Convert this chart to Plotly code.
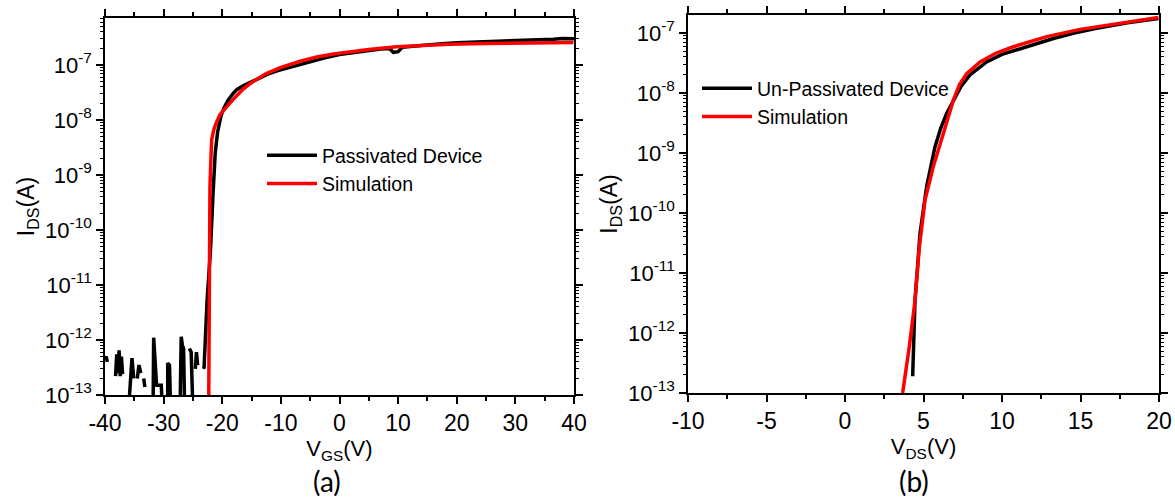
import plotly.graph_objects as go

# ---------------- data: (a) passivated device, transfer curve ----------------
vgs_meas = [-40, -39.8, -39.6, None,
            -38.2, -38.0, -37.8, -37.6, -37.4, -37.2, -37.0, None,
            -36.0, -35.4, -35.1, None,
            -34.5, -34.2, -33.9, None, -33.4, -33.2, None,
            -31.8, -31.7, -31.2, -30.8, -30.4, -30.2, None,
            -29.3, -29.3, -29.0, -28.8, None,
            -27.2, -27.0, -26.8, -26.6, -26.4, None,
            -25.6, -25.3, -25.0, None,
            -24.6, -24.4, -24.2, None,
            -23.2, -23.1, -22.6, -22.0, -21.6, -21.2, -20.8, -20.2, -19.6, -19.0, -18.2, -17.5,
            -16.2, -15, -13.5, -12, -10.5, -9, -7, -5, -2.5, 0, 2.5, 5, 7, 8.5, 9.2, 10.0, 10.7,
            12.5, 15, 17.5, 20, 22.5, 25, 27.5, 30, 32.5, 35, 36.5, 38, 40]
ids_meas = [4.5e-13, 5e-13, 4e-13, None,
            2.2e-13, 5.5e-13, 2.5e-13, 6.5e-13, 2.2e-13, 5e-13, 2.4e-13, None,
            5e-14, 4.7e-13, 2e-13, None,
            2e-13, 3.5e-13, 2.5e-13, None, 2e-13, 1.4e-13, None,
            5e-14, 1.1e-12, 1.5e-13, 1.5e-13, 1.5e-13, 5e-14, None,
            5e-14, 3.8e-13, 3.5e-13, 5e-14, None,
            5e-14, 1.15e-12, 8e-13, 7e-13, 5e-14, None,
            7e-13, 6e-13, 5e-14, None,
            3e-13, 6e-13, 3.5e-13, None,
            3e-13, 3.2e-13, 5e-12, 4.5e-11, 4e-10, 2.5e-9, 6e-9, 1.2e-8, 1.75e-8, 2.3e-8, 3.0e-8, 3.6e-8,
            4.3e-8, 5e-8, 6e-8, 7e-8, 7.9e-8, 8.8e-8, 1.0e-7, 1.15e-7, 1.35e-7, 1.55e-7, 1.7e-7, 1.82e-7,
            1.95e-7, 2.0e-7, 1.7e-7, 1.75e-7, 2.1e-7,
            2.2e-7, 2.35e-7, 2.45e-7, 2.55e-7, 2.6e-7, 2.62e-7, 2.68e-7, 2.72e-7, 2.78e-7, 2.85e-7,
            2.95e-7, 3.05e-7, 3.0e-7]

vgs_sim = [-22.3, -22.25, -22.1, -21.9, -21.8, -21.5, -21.2, -20.4, -19.2, -18.1, -16.5, -15, -12.5,
           -10, -6.7, -3.9, -1, 1.8, 5, 9.7, 14, 18.85, 25, 30, 35, 39.9]
ids_sim = [1e-13, 5e-11, 6e-10, 2.5e-9, 4.4e-9, 6.3e-9, 8e-9, 1.25e-8, 1.8e-8, 2.4e-8, 3.6e-8,
           4.8e-8, 7.0e-8, 9.1e-8, 1.17e-7, 1.4e-7, 1.58e-7, 1.74e-7, 1.92e-7, 2.14e-7, 2.27e-7,
           2.38e-7, 2.46e-7, 2.5e-7, 2.54e-7, 2.58e-7]

# ---------------- data: (b) un-passivated device ----------------
vds_meas = [4.31, 4.46, 4.78, 5.2, 5.73, 6.1, 6.48, 6.9, 7.4, 7.96, 9.02, 10.0, 11.15, 12.2, 13.27,
            14.6, 16.03, 18.0, 19.96]
ids_meas_b = [1.9e-13, 3.5e-12, 4.6e-11, 2.75e-10, 1.26e-9, 2.6e-9, 4.6e-9, 7.6e-9, 1.3e-8, 2.0e-8,
              3.3e-8, 4.4e-8, 5.5e-8, 6.8e-8, 8.1e-8, 1.0e-7, 1.2e-7, 1.48e-7, 1.74e-7]

vds_sim = [3.67, 4.1, 4.46, 4.73, 5.1, 5.62, 6.26, 6.9, 7.3, 7.75, 8.6, 9.6, 10.72, 11.8, 12.85,
           14.97, 17.1, 19.96]
ids_sim_b = [1e-13, 6e-13, 3.5e-12, 2.6e-11, 1.66e-10, 5.9e-10, 2.1e-9, 7.6e-9, 1.4e-8, 2.1e-8,
             3.3e-8, 4.6e-8, 5.9e-8, 7.3e-8, 8.7e-8, 1.15e-7, 1.4e-7, 1.82e-7]

# ---------------- tick labels ----------------
y_tickvals = [1e-13, 1e-12, 1e-11, 1e-10, 1e-9, 1e-8, 1e-7]
y_ticktext = ["10<sup>-13</sup>", "10<sup>-12</sup>", "10<sup>-11</sup>", "10<sup>-10</sup>",
              "10<sup>-9</sup>", "10<sup>-8</sup>", "10<sup>-7</sup>"]
y_minor = [m * 10.0 ** e for e in range(-13, -6) for m in range(2, 10)]
xa_tickvals = [-40, -30, -20, -10, 0, 10, 20, 30, 40]
xa_ticktext = ["-40", "-30", "-20", "-10", "0", "10", "20", "30", "40"]
xb_tickvals = [-10, -5, 0, 5, 10, 15, 20]
xb_ticktext = ["-10", "-5", "0", "5", "10", "15", "20"]

FONT = "Liberation Sans, Arial, sans-serif"
LW = 3.5

fig = go.Figure()
fig.add_trace(go.Scatter(x=vgs_meas, y=ids_meas, mode="lines", name="Passivated Device",
                         line=dict(color="black", width=LW), xaxis="x", yaxis="y", legend="legend"))
fig.add_trace(go.Scatter(x=vgs_sim, y=ids_sim, mode="lines", name="Simulation",
                         line=dict(color="#ff0000", width=LW), xaxis="x", yaxis="y", legend="legend"))
fig.add_trace(go.Scatter(x=vds_meas, y=ids_meas_b, mode="lines", name="Un-Passivated Device",
                         line=dict(color="black", width=LW), xaxis="x2", yaxis="y2", legend="legend2"))
fig.add_trace(go.Scatter(x=vds_sim, y=ids_sim_b, mode="lines", name="Simulation",
                         line=dict(color="#ff0000", width=LW), xaxis="x2", yaxis="y2", legend="legend2"))

common_x = dict(showline=True, linecolor="black", linewidth=1.5, mirror="ticks", automargin=False,
                ticks="outside", ticklen=7, tickwidth=1.5, tickcolor="black",
                showgrid=False, zeroline=False, tickmode="array",
                tickfont=dict(family=FONT, size=23, color="black"),
                title_font=dict(family=FONT, size=22, color="black"), title_standoff=0)
common_y = dict(type="log", showline=True, linecolor="black", linewidth=1.5, mirror="ticks",
                automargin=False,
                ticks="outside", ticklen=7, tickwidth=1.5, tickcolor="black",
                showgrid=False, zeroline=False,
                tickmode="array", tickvals=y_tickvals, ticktext=y_ticktext,
                minor=dict(tickmode="array", tickvals=y_minor, ticks="outside", ticklen=3.5,
                           tickwidth=1, tickcolor="black", showgrid=False),
                tickfont=dict(family=FONT, size=22, color="black"),
                title_font=dict(family=FONT, size=23, color="black"), title_standoff=4)

fig.update_layout(
    width=1175, height=500, margin=dict(l=0, r=0, t=0, b=0),
    paper_bgcolor="white", plot_bgcolor="white",
    font=dict(family=FONT, color="black"),
    xaxis=dict(common_x, domain=[105/1175, 574/1175], range=[-40, 40],
               tickvals=xa_tickvals, ticktext=xa_ticktext,
               minor=dict(tickmode="array", tickvals=[-35, -25, -15, -5, 5, 15, 25, 35],
                          ticks="outside", ticklen=4, tickwidth=1.5, tickcolor="black"),
               anchor="y", title_text="V<sub>GS</sub>(V)"),
    yaxis=dict(common_y, domain=[105/500, 482/500], range=[-13, -6.145], anchor="x",
               title_text="I<sub>DS</sub>(A)"),
    xaxis2=dict(common_x, domain=[688/1175, 1159/1175], range=[-10, 20],
                tickvals=xb_tickvals, ticktext=xb_ticktext,
                minor=dict(tickmode="array", tickvals=[-7.5, -2.5, 2.5, 7.5, 12.5, 17.5],
                           ticks="outside", ticklen=4, tickwidth=1.5, tickcolor="black"),
                anchor="y2", title_text="V<sub>DS</sub>(V)"),
    yaxis2=dict(common_y, domain=[107/500, 485/500], range=[-13, -6.7], anchor="x2",
                title_text="I<sub>DS</sub>(A)"),
    legend=dict(x=262/1175, y=1 - 136/500, xanchor="left", yanchor="top",
                bgcolor="rgba(0,0,0,0)", font=dict(family=FONT, size=19.5, color="black"),
                itemwidth=50, tracegroupgap=0),
    legend2=dict(x=697/1175, y=1 - 69/500, xanchor="left", yanchor="top",
                 bgcolor="rgba(0,0,0,0)", font=dict(family=FONT, size=19.5, color="black"),
                 itemwidth=50, tracegroupgap=0),
    annotations=[
        dict(text="(a)", x=327/1175, y=0, xref="paper", yref="paper",
             xanchor="center", yanchor="bottom",
             showarrow=False, font=dict(family="Lato, Open Sans, sans-serif", size=28, color="black")),
        dict(text="(b)", x=914/1175, y=0, xref="paper", yref="paper",
             xanchor="center", yanchor="bottom",
             showarrow=False, font=dict(family="Lato, Open Sans, sans-serif", size=28, color="black")),
    ],
)

fig.write_html("out.html")
